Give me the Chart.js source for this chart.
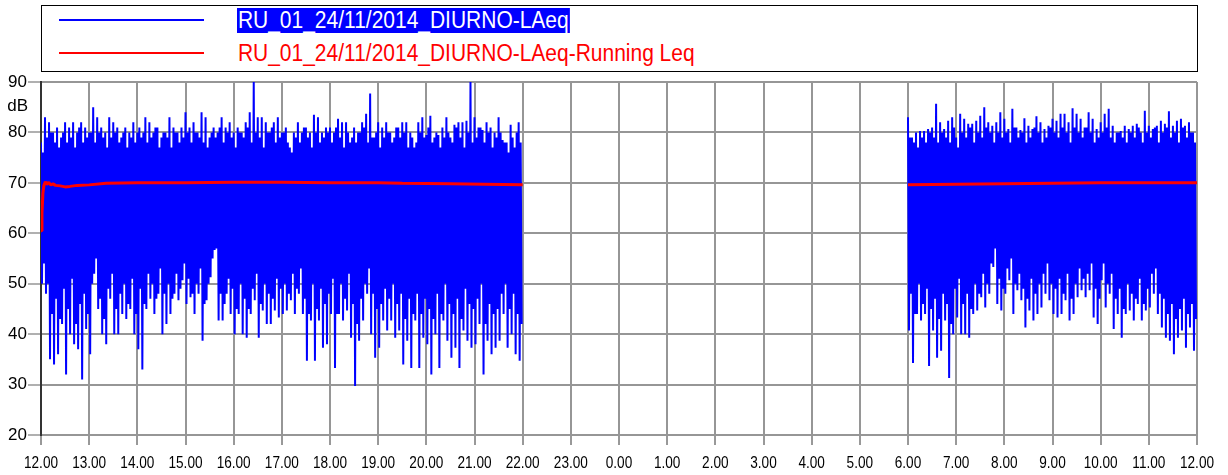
<!DOCTYPE html>
<html>
<head>
<meta charset="utf-8">
<title>RU_01_24/11/2014_DIURNO-LAeq</title>
<script src="https://cdn.jsdelivr.net/npm/chart.js@4/dist/chart.umd.min.js"></script>
<style>
  html, body { margin: 0; padding: 0; background: #fff; }
  #wrap { position: relative; width: 1228px; height: 475px; }
  canvas { position: absolute; left: 0; top: 0; }
  #legend {
    position: absolute; left: 41px; top: 5px; width: 1157px; height: 67px;
    box-sizing: border-box; border: 1px solid #000; background: #fff;
    font-family: 'Liberation Sans', Arial, sans-serif;
    font-size: 23px;
  }
  .swatch { position: absolute; left: 17px; width: 145px; }
  .label {
    position: absolute; left: 195px; line-height: 25px; white-space: nowrap; padding: 0 1px;
    transform: scaleX(0.912); transform-origin: 0 0;
  }
</style>
</head>
<body>
<div id="wrap">
  <canvas id="c" width="1228" height="475"></canvas>
  <div id="legend">
    <div class="swatch" style="top:13px;height:1.5px;background:#0000ff"></div>
    <span class="label" style="top:2px;background:#0000ff;color:#fff">RU_01_24/11/2014_DIURNO-LAeq</span>
    <div class="swatch" style="top:46px;height:2px;background:#ff0000"></div>
    <span class="label" style="top:35px;color:#ff0000">RU_01_24/11/2014_DIURNO-LAeq-Running Leq</span>
  </div>
</div>
<script>
// Hour labels along the time axis (12.00 of the 24th to 12.00 of the 25th)
const hourLabels = ['12.00','13.00','14.00','15.00','16.00','17.00','18.00','19.00','20.00','21.00','22.00','23.00',
  '0.00','1.00','2.00','3.00','4.00','5.00','6.00','7.00','8.00','9.00','10.00','11.00','12.00'];
const yTicks = [20, 30, 40, 50, 60, 70, 80, 90];

// LAeq per 5-minute slot: main peak/trough, then a second peak/trough later in the slot.
// Daytime block 12.00-22.00
const slotMinutes = 5;
const day1StartHour = 0;   // hours after 12.00
const day1High = [
  78, 83, 82, 80, 81, 79, 82, 81, 82, 80, 82, 81, 80, 85, 83, 81, 80, 83, 82, 81, 79, 81, 80, 82, 80, 79, 83, 82, 80, 81, 79,
  80, 83, 81, 80, 81, 84, 81, 82, 80, 84, 83, 79, 81, 80, 83, 81, 82, 80, 81, 80, 82, 84, 90, 83, 83, 82, 80, 82, 83, 80, 81,
  77, 80, 82, 80, 81, 80, 83.5, 83, 80, 81, 81, 80, 82.7, 82, 82, 78, 81, 80, 82, 83.7, 87.7, 79, 82, 81, 82, 80, 79, 81, 82, 82, 80,
  77, 82, 83, 79.5, 83.3, 79, 79.5, 81, 83, 79, 81.5, 82, 82, 82.3, 90, 83, 81, 80.5, 82, 81, 80, 83, 78.5, 78, 81.5, 77, 82
];
const day1Low = [
  50, 48, 35, 34, 36, 42, 32, 40, 38, 37, 31, 41, 36, 52, 45, 40, 38, 47, 40, 40, 44, 43, 45, 40, 37, 33, 45, 47, 44, 48, 40,
  42, 44, 48, 46.7, 50.7, 46, 47.3, 44, 48, 38.7, 46.7, 51.3, 56.7, 42.7, 42.7, 48, 44, 40, 44, 40, 39.3, 44, 46.7, 39.3, 44.7, 42, 42, 44.7, 43.3, 44, 44.7,
  46.7, 44, 48, 44, 34.7, 42.7, 34.7, 42.7, 37.3, 38, 44, 33.3, 44, 42.7, 44.7, 39.3, 29.7, 38.7, 42.7, 48, 40, 35.3, 37.3, 42.7, 40.7, 42.7, 39.3, 40.7, 34, 38.7, 33.3,
  42.7, 33.3, 39.3, 38, 32, 40, 33.3, 42.7, 38.7, 35.3, 37.3, 33.3, 40.7, 38.7, 37.3, 38, 42, 32, 38.7, 36, 37.3, 38.7, 44, 37.3, 40, 36, 34.7
];
const day1High2 = [
  76, 79, 80, 78, 77, 80, 78, 79, 77, 81, 78, 79, 80, 78, 80, 79, 77, 79, 80, 78, 80, 77, 79, 78, 81, 80, 78, 79, 81, 77, 80,
  79, 77, 80, 78, 79, 80, 78, 80, 79, 78, 77, 80, 79, 81, 78, 80, 79, 77, 80, 79, 81, 78, 80, 79, 77, 80, 81, 78, 79, 80, 78,
  76, 79, 78, 81, 79, 77, 80, 78, 79, 80, 78, 81, 79, 77, 80, 79, 78, 80, 81, 78, 79, 80, 77, 79, 80, 78, 81, 79, 80, 77, 79,
  78, 80, 79, 81, 78, 80, 77, 79, 80, 78, 81, 79, 77, 80, 78, 79, 81, 78, 80, 77, 79, 80, 78, 76, 79, 80, 78
];
const day1Low2 = [
  54, 50, 44, 47, 43, 49, 45, 51, 42, 46, 48, 44, 50, 55, 47, 43, 49, 52, 45, 48, 50, 46, 51, 44, 49, 46, 52, 50, 47, 53, 48,
  50, 47, 52, 49, 54, 51, 48, 50, 53, 46, 50, 55, 57, 48, 46, 51, 49, 45, 50, 47, 45, 49, 52, 46, 50, 48, 47, 51, 49, 50, 48,
  52, 49, 53, 47, 44, 50, 45, 49, 46, 48, 51, 44, 50, 47, 52, 46, 42, 47, 50, 53, 48, 45, 46, 49, 47, 50, 46, 48, 43, 47, 44,
  48, 44, 47, 45, 43, 48, 44, 50, 46, 44, 47, 43, 49, 46, 45, 47, 50, 42, 46, 44, 45, 48, 50, 45, 48, 44, 42
];

// Morning block 6.00-12.00
const day2StartHour = 18;  // 6.00 = 18 h after 12.00
const day2High = [
  83, 79, 80, 80.3, 80.3, 80.7, 81, 85.7, 82, 80.7, 82.3, 83, 79, 83.7, 82.7, 81.7, 81.7, 82.3, 83.3, 85, 82, 81.3, 82, 84,
  82.7, 80.7, 84.7, 81, 80.5, 82.8, 81.3, 80.7, 83.2, 82, 80.7, 81.3, 82.7, 82.3, 83.7, 83.7, 82, 84.8, 83.7, 82.7, 81, 84, 82.7, 80.7,
  82, 83.7, 84.7, 81.3, 80, 80.3, 81.3, 80.7, 81.3, 81.7, 80, 84.3, 81.3, 80.7, 81.3, 82.3, 81.7, 84.2, 81.3, 82.3, 82.7, 81.3, 82, 80
];
const day2Low = [
  40.7, 34.3, 44, 42.7, 44, 33.7, 40.7, 35.3, 36.7, 42.7, 31.3, 40, 43.3, 40, 40, 39.3, 44, 44.7, 47.3, 45.3, 48, 53.3, 46, 44.7,
  48, 50.7, 44, 48.7, 46.7, 41.3, 44.7, 42.7, 44, 45.3, 48, 46.7, 44, 43.3, 44, 46.7, 42.7, 44, 47.3, 48.7, 47.3, 48.7, 43.3, 42,
  50.7, 45.3, 48, 41, 44, 39.3, 44, 44.7, 42.7, 46, 42.7, 44.7, 45.3, 48, 44, 41.3, 39.3, 38.7, 36, 39.3, 40.7, 37.3, 41.3, 36.7
];
const day2High2 = [
  79, 78, 77, 79, 78, 80, 79, 78, 80, 79, 78, 81, 77, 80, 79, 81, 78, 80, 79, 81, 80, 78, 80, 79,
  80, 78, 81, 79, 80, 78, 79, 81, 80, 78, 79, 81, 80, 79, 81, 80, 78, 81, 80, 79, 81, 80, 78, 79,
  80, 81, 79, 78, 80, 79, 78, 80, 79, 81, 78, 80, 79, 81, 78, 80, 81, 79, 80, 78, 81, 79, 80, 78
];
const day2Low2 = [
  48, 44, 50, 46, 49, 45, 47, 43, 48, 46, 42, 49, 51, 46, 48, 45, 50, 48, 52, 50, 54, 57, 51, 49,
  53, 55, 50, 52, 49, 47, 51, 48, 50, 52, 54, 50, 49, 51, 48, 52, 47, 50, 53, 51, 52, 54, 49, 47,
  54, 50, 52, 47, 49, 45, 50, 48, 47, 51, 46, 49, 52, 53, 48, 47, 44, 46, 43, 45, 47, 44, 46, 43
];

// Running Leq (hours after 12.00, dB)
const leqDay1Hours = [0, 0.02, 0.04, 0.06, 0.09, 0.12, 0.16, 0.2, 0.25, 0.3, 0.4, 0.5, 0.6, 0.75, 1.0, 1.35, 2.0, 3, 4, 5, 6, 7, 7.5, 8.5, 9.2, 10];
const leqDay1 = [60.5, 64, 68, 69.5, 70.2, 69.7, 70.1, 69.6, 69.8, 69.5, 69.4, 69.2, 69.3, 69.5, 69.6, 69.9, 70.0, 70.0, 70.1, 70.1, 70.0, 70.0, 69.9, 69.8, 69.7, 69.6];
const leqDay2Hours = [18, 19, 20, 21, 22, 23, 24];
const leqDay2 = [69.6, 69.7, 69.8, 69.9, 70.0, 70.0, 70.0];

// Each slot: peak, trough, second peak, second trough, evenly spread over the slot
function slotPoints(startHour, highs, lows, highs2, lows2) {
  const step = slotMinutes / 60;
  const pts = [];
  highs.forEach((h, i) => {
    const t = startHour + i * step;
    pts.push({ x: t, y: h });
    pts.push({ x: t + step * 0.25, y: lows[i] });
    pts.push({ x: t + step * 0.5, y: highs2[i] });
    pts.push({ x: t + step * 0.75, y: lows2[i] });
  });
  return pts;
}
function pairPoints(hours, values) {
  return hours.map((h, i) => ({ x: h, y: values[i] }));
}

const sans = "'Liberation Sans', Arial, sans-serif";
const gridGray = '#969696';

// Condensed hour labels under the time axis, plus the unit caption of the level axis
const axisText = {
  id: 'axisText',
  afterDraw(chart) {
    const { ctx, scales } = chart;
    const x = scales.x;
    ctx.save();
    ctx.fillStyle = '#000';
    ctx.font = '16px ' + sans;
    ctx.textAlign = 'center';
    ctx.textBaseline = 'alphabetic';
    x.ticks.forEach(t => {
      const px = x.getPixelForValue(t.value);
      ctx.save();
      ctx.translate(px, x.top + 33);
      ctx.scale(0.85, 1);
      ctx.fillText(hourLabels[t.value], 0, 0);
      ctx.restore();
    });
    ctx.font = '17px ' + sans;
    ctx.textAlign = 'right';
    ctx.textBaseline = 'middle';
    ctx.fillText('dB', scales.y.right - 13, scales.y.getPixelForValue(85.1));
    ctx.restore();
  }
};

new Chart(document.getElementById('c'), {
  type: 'line',
  data: {
    datasets: [
      { label: 'Running Leq 1', data: pairPoints(leqDay1Hours, leqDay1), borderColor: '#ff0000', borderWidth: 3 },
      { label: 'Running Leq 2', data: pairPoints(leqDay2Hours, leqDay2), borderColor: '#ff0000', borderWidth: 3 },
      { label: 'LAeq 1', data: slotPoints(day1StartHour, day1High, day1Low, day1High2, day1Low2), borderColor: '#0000ff', borderWidth: 2 },
      { label: 'LAeq 2', data: slotPoints(day2StartHour, day2High, day2Low, day2High2, day2Low2), borderColor: '#0000ff', borderWidth: 2 }
    ]
  },
  options: {
    responsive: false,
    animation: false,
    layout: { padding: { top: 82, right: 31, left: 0, bottom: 0 } },
    elements: { point: { radius: 0 }, line: { tension: 0, borderJoinStyle: 'bevel' } },
    plugins: { legend: { display: false }, tooltip: { enabled: false } },
    scales: {
      x: {
        type: 'linear', min: 0, max: 24,
        afterFit(s) { s.height = 40; },
        ticks: { stepSize: 1, autoSkip: false, maxRotation: 0, color: 'rgba(0,0,0,0)', font: { family: sans, size: 16 } },
        grid: { color: gridGray, lineWidth: 2, tickLength: 10, tickColor: '#333', tickWidth: 1 },
        border: { color: gridGray, width: 2 }
      },
      y: {
        min: 20, max: 90,
        afterFit(s) { s.width = 41; },
        afterBuildTicks(s) { s.ticks = yTicks.map(v => ({ value: v })); },
        ticks: { padding: 1, color: '#000', font: { family: sans, size: 17 } },
        grid: { color: gridGray, lineWidth: 2, tickLength: 13, tickColor: gridGray, tickWidth: 1.5 },
        border: { color: '#333', width: 2 }
      }
    }
  },
  plugins: [axisText]
});
</script>
</body>
</html>
